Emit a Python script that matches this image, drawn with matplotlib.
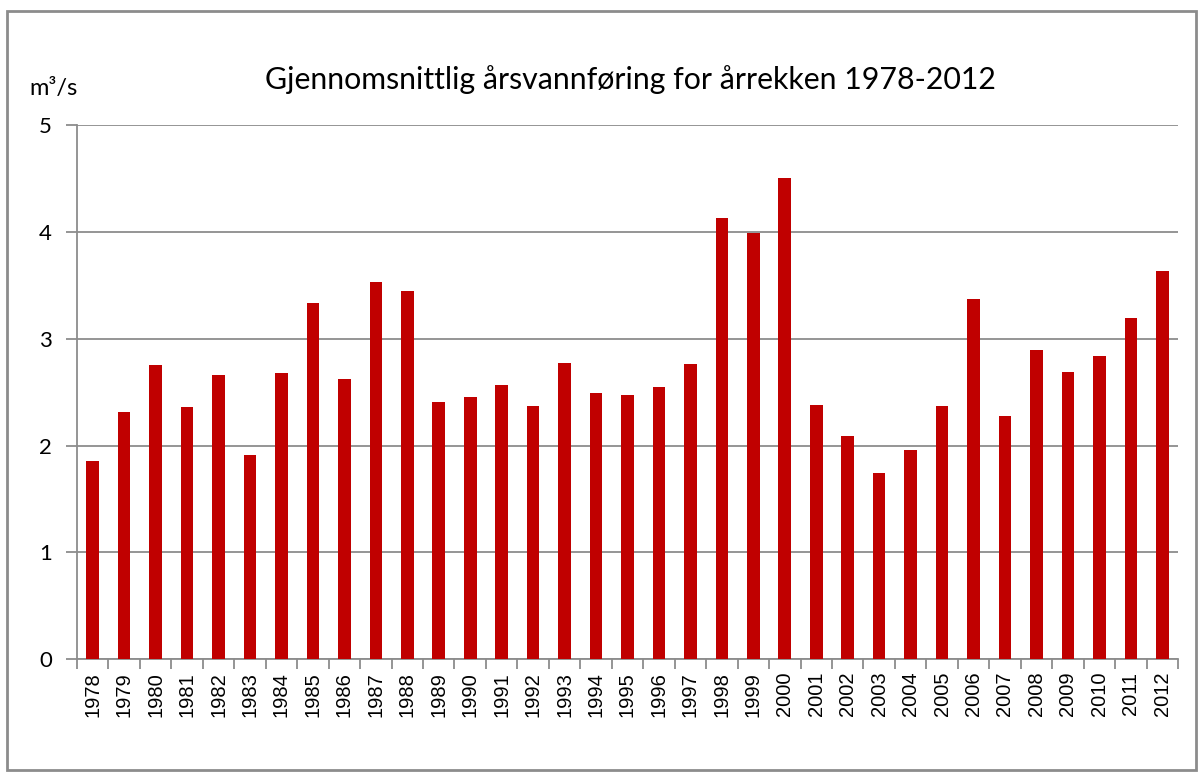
import matplotlib
matplotlib.use("Agg")
import matplotlib.pyplot as plt
from matplotlib.patches import Rectangle

years = [str(y) for y in range(1978, 2013)]
flow = [1.86, 2.31, 2.75, 2.36, 2.66, 1.91, 2.68, 3.33, 2.62, 3.53,
        3.45, 2.41, 2.45, 2.57, 2.37, 2.77, 2.49, 2.47, 2.55, 2.76,
        4.13, 3.99, 4.50, 2.38, 2.09, 1.74, 1.96, 2.37, 3.37, 2.28,
        2.89, 2.69, 2.84, 3.19, 3.63]
yticks = [0, 1, 2, 3, 4, 5]

W, H = 1204, 778
fig = plt.figure(figsize=(W / 100, H / 100), dpi=100)
fig.patch.set_facecolor("white")
fig.patches.append(Rectangle((7 / W, 8 / H), (1196 - 7) / W, (767 - 8) / H,
                             transform=fig.transFigure, fill=False,
                             edgecolor="#8c8c8c", linewidth=2))

ax = fig.add_axes([77 / W, 1 - 659.3 / H, (1178 - 77) / W, (659.3 - 125) / H])
x = list(range(len(years)))
ax.bar(x, flow, width=0.4, color="#c00000", zorder=3)
ax.set_xlim(-0.5, len(years) - 0.5)
ax.set_ylim(0, 5)
ax.set_yticks(yticks)
ax.set_yticklabels([str(v) for v in yticks], family="Lato", fontsize=16)
ax.yaxis.grid(True, color="#8c8c8c", linewidth=1.3, zorder=0)
ax.set_xticks(x)
ax.set_xticklabels(years, rotation=90, fontsize=14.5, family="Liberation Sans")
ax.tick_params(axis="x", length=0, pad=9)
ax.set_xticks([i - 0.5 for i in range(len(years) + 1)], minor=True)
ax.tick_params(axis="x", which="minor", length=7, color="#8c8c8c", width=1.3)
ax.tick_params(axis="y", length=8, color="#8c8c8c", width=1.3, pad=10)
for s in ["top", "right"]:
    ax.spines[s].set_visible(False)
for s in ["left", "bottom"]:
    ax.spines[s].set_color("#8c8c8c")
    ax.spines[s].set_linewidth(1.3)

fig.text(630 / W, 1 - 80 / H, "Gjennomsnittlig årsvannføring for årrekken 1978-2012",
         ha="center", va="center", family="Lato", fontsize=21.8)
fig.text(29 / W, 1 - 88 / H, "m³/s", ha="left", va="center", family="Lato", fontsize=17)

fig.savefig("out.png", dpi=100)
